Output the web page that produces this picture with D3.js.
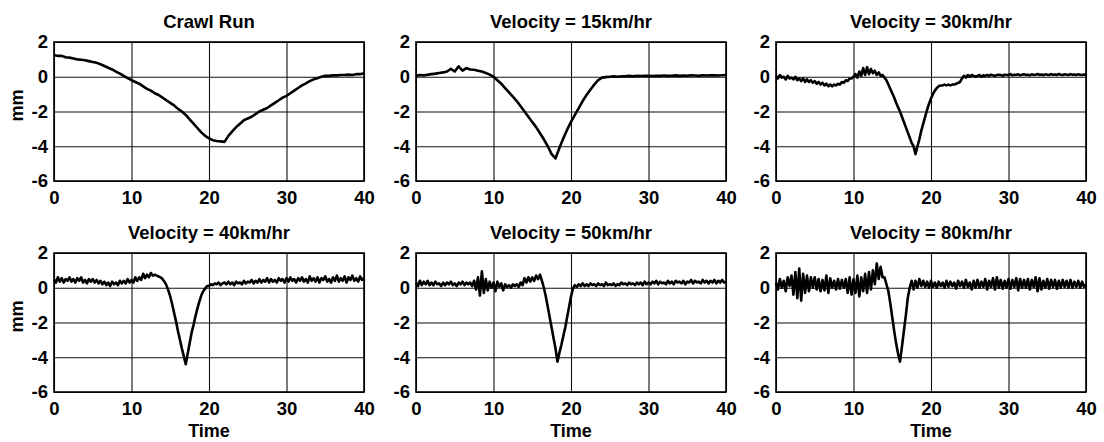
<!DOCTYPE html>
<html>
<head>
<meta charset="utf-8">
<script src="https://cdn.jsdelivr.net/npm/d3@7"></script>
<style>
  body { margin: 0; background: #fff; }
  svg { display: block; }
  text { font-family: "Liberation Sans", Arial, sans-serif; font-weight: bold; fill: #000; }
</style>
</head>
<body>
<div id="chart"></div>
<script>
// panel titles, in reading order
const titles = ['Crawl Run', 'Velocity = 15km/hr', 'Velocity = 30km/hr',
  'Velocity = 40km/hr', 'Velocity = 50km/hr', 'Velocity = 80km/hr'];

const xTicks = [0, 10, 20, 30, 40];
const yTicks = [2, 0, -2, -4, -6];

// displacement traces (mm), evenly spaced over 0..40
// crawl run, every 0.5
const crawlRun = [
  1.25, 1.2, 1.2, 1.12, 1.1, 1.05, 1.0, 0.98, 0.95, 0.9,
  0.85, 0.8, 0.72, 0.62, 0.52, 0.42, 0.3, 0.18, 0.05, -0.08,
  -0.2, -0.3, -0.4, -0.55, -0.7, -0.8, -0.95, -1.05, -1.2, -1.35,
  -1.5, -1.65, -1.85, -2.0, -2.2, -2.45, -2.7, -2.95, -3.2, -3.4,
  -3.55, -3.65, -3.7, -3.72, -3.75, -3.4, -3.15, -2.9, -2.7, -2.5,
  -2.4, -2.3, -2.15, -2.0, -1.9, -1.8, -1.65, -1.5, -1.35, -1.2,
  -1.1, -0.95, -0.8, -0.65, -0.5, -0.38, -0.25, -0.15, -0.08, 0.0,
  0.05, 0.05, 0.08, 0.08, 0.1, 0.1, 0.12, 0.1, 0.15, 0.15,
  0.2
];

// 15 km/hr, every 0.5
const vel15 = [
  0.05, 0.1, 0.08, 0.12, 0.15, 0.18, 0.22, 0.25, 0.3, 0.45,
  0.3, 0.6, 0.35, 0.5, 0.42, 0.4, 0.35, 0.3, 0.22, 0.12,
  0.0, -0.2, -0.4, -0.65, -0.9, -1.15, -1.4, -1.7, -2.0, -2.3,
  -2.6, -2.9, -3.25, -3.6, -4.0, -4.45, -4.7, -4.1, -3.55, -3.05,
  -2.6, -2.2, -1.8, -1.4, -1.05, -0.75, -0.45, -0.2, -0.05, -0.02,
  0.0, 0.02, 0.0, 0.03, 0.02, 0.05, 0.03, 0.05, 0.04, 0.06,
  0.05, 0.04, 0.06, 0.05, 0.07, 0.05, 0.06, 0.08, 0.05, 0.07,
  0.06, 0.08, 0.07, 0.06, 0.08, 0.07, 0.09, 0.08, 0.07, 0.09,
  0.1
];

// 30 km/hr, every 0.25
const vel30 = [
  0.05, -0.1, 0.1, -0.05, 0.0, -0.15, 0.05, -0.1,
  -0.05, -0.15, 0.0, -0.2, -0.1, -0.25, -0.1, -0.3,
  -0.15, -0.3, -0.2, -0.35, -0.25, -0.4, -0.3, -0.45,
  -0.35, -0.5, -0.4, -0.55, -0.45, -0.55, -0.45, -0.5,
  -0.4, -0.45, -0.3, -0.35, -0.2, -0.25, -0.1, -0.1,
  0.0, 0.15, -0.05, 0.3, 0.05, 0.5, 0.1, 0.55,
  0.15, 0.45, 0.2, 0.35, 0.1, 0.25, 0.05, 0.1,
  -0.05, -0.2, -0.45, -0.7, -0.95, -1.2, -1.5, -1.75,
  -2.0, -2.3, -2.6, -2.9, -3.2, -3.5, -3.8, -4.0,
  -4.45, -4.0, -3.6, -3.1, -2.7, -2.3, -1.9, -1.55,
  -1.25, -1.0, -0.8, -0.65, -0.55, -0.5, -0.5, -0.45,
  -0.5, -0.45, -0.5, -0.45, -0.45, -0.4, -0.35, -0.3,
  -0.1, 0.05, -0.05, 0.1, 0.0, 0.1, 0.05, 0.0,
  0.05, 0.1, 0.0, 0.08, 0.05, 0.1, 0.05, 0.12,
  0.08, 0.05, 0.1, 0.12, 0.1, 0.05, 0.12, 0.1,
  0.1, 0.15, 0.08, 0.12, 0.1, 0.14, 0.08, 0.12,
  0.15, 0.1, 0.12, 0.08, 0.14, 0.1, 0.12, 0.16,
  0.1, 0.13, 0.09, 0.14, 0.12, 0.1, 0.15, 0.11,
  0.13, 0.1, 0.16, 0.12, 0.1, 0.14, 0.12, 0.1,
  0.15, 0.11, 0.13, 0.1, 0.14, 0.12, 0.1, 0.13,
  0.1
];

// 40 km/hr, every 0.25
const vel40 = [
  0.5, 0.3, 0.6, 0.35, 0.55, 0.3, 0.5, 0.4,
  0.6, 0.35, 0.5, 0.3, 0.55, 0.4, 0.6, 0.3,
  0.45, 0.25, 0.5, 0.35, 0.5, 0.3, 0.45, 0.25,
  0.4, 0.2, 0.35, 0.15, 0.3, 0.1, 0.35, 0.2,
  0.3, 0.15, 0.4, 0.25, 0.4, 0.25, 0.5, 0.3,
  0.45, 0.3, 0.6, 0.4, 0.6, 0.45, 0.8, 0.55,
  0.75, 0.6, 0.85, 0.7, 0.75, 0.7, 0.65, 0.6,
  0.5, 0.35, 0.15, -0.15, -0.5, -0.95, -1.45, -1.95,
  -2.5, -3.0, -3.5, -3.95, -4.4, -3.8, -3.2, -2.6,
  -2.15, -1.65, -1.2, -0.8, -0.45, -0.2, -0.05, 0.1,
  0.1, 0.2, 0.15, 0.25, 0.2, 0.3, 0.15, 0.25,
  0.3, 0.2, 0.35, 0.2, 0.3, 0.15, 0.35, 0.25,
  0.3, 0.2, 0.4, 0.25, 0.35, 0.3, 0.45, 0.25,
  0.4, 0.3, 0.5, 0.3, 0.45, 0.35, 0.55, 0.3,
  0.5, 0.35, 0.45, 0.3, 0.55, 0.4, 0.5, 0.3,
  0.55, 0.35, 0.6, 0.4, 0.5, 0.3, 0.55, 0.4,
  0.6, 0.35, 0.5, 0.3, 0.65, 0.4, 0.55, 0.35,
  0.6, 0.3, 0.55, 0.45, 0.65, 0.35, 0.5, 0.3,
  0.6, 0.4, 0.7, 0.35, 0.55, 0.4, 0.65, 0.3,
  0.6, 0.45, 0.7, 0.4, 0.55, 0.35, 0.65, 0.45,
  0.55
];

// 50 km/hr, every 0.25
const vel50 = [
  0.3, 0.1, 0.4, 0.15, 0.35, 0.2, 0.4, 0.15,
  0.3, 0.15, 0.35, 0.2, 0.25, 0.1, 0.3, 0.15,
  0.3, 0.2, 0.35, 0.15, 0.25, 0.1, 0.3, 0.2,
  0.35, 0.15, 0.3, 0.2, 0.3, 0.1, 0.4, -0.1,
  0.6, -0.45, 0.95, -0.3, 0.5, -0.15, 0.35, 0.0,
  0.3, -0.2, 0.35, 0.05, 0.25, -0.15, 0.2, 0.05,
  0.15, 0.0, 0.2, 0.1, 0.2, 0.05, 0.3, 0.15,
  0.55, 0.3, 0.6, 0.35, 0.6, 0.4, 0.7, 0.5,
  0.75, 0.4, 0.0, -0.5, -1.1, -1.7, -2.3, -2.9,
  -3.5, -4.25, -3.75, -3.3, -2.8, -2.3, -1.7, -1.1,
  -0.5, -0.05, 0.15, 0.05, 0.2, 0.1, 0.25, 0.1,
  0.2, 0.1, 0.25, 0.15, 0.2, 0.1, 0.25, 0.15,
  0.2, 0.1, 0.3, 0.15, 0.2, 0.15, 0.25, 0.1,
  0.2, 0.15, 0.3, 0.2, 0.25, 0.15, 0.3, 0.2,
  0.25, 0.15, 0.3, 0.2, 0.3, 0.15, 0.35, 0.2,
  0.3, 0.2, 0.35, 0.25, 0.4, 0.2, 0.35, 0.25,
  0.3, 0.2, 0.4, 0.25, 0.35, 0.2, 0.4, 0.3,
  0.35, 0.25, 0.4, 0.2, 0.35, 0.3, 0.45, 0.25,
  0.4, 0.3, 0.35, 0.25, 0.45, 0.3, 0.4, 0.25,
  0.4, 0.3, 0.45, 0.25, 0.4, 0.3, 0.45, 0.3,
  0.35
];

// 80 km/hr, every 0.25
const vel80 = [
  0.3, -0.1, 0.5, 0.0, 0.4, -0.2, 0.6, 0.1,
  0.7, -0.4, 0.9, -0.6, 1.1, -0.75, 0.8, -0.3,
  0.7, -0.2, 0.6, 0.0, 0.6, -0.1, 0.5, -0.2,
  0.45, -0.15, 0.7, -0.3, 0.55, 0.0, 0.4, -0.1,
  0.5, -0.05, 0.45, 0.0, 0.5, -0.3, 0.6, -0.4,
  0.5, -0.3, 0.7, -0.5, 0.6, -0.2, 0.8, -0.3,
  0.9, -0.1, 1.0, 0.2, 1.4, 0.5, 1.2, 0.6,
  0.6, 0.2, -0.2, -0.9, -1.7, -2.5, -3.2, -3.8,
  -4.25, -3.4, -2.5, -1.6, -0.6, 0.0, 0.4, -0.1,
  0.4, 0.0, 0.5, 0.1, 0.4, 0.05, 0.35, 0.0,
  0.4, 0.05, 0.3, 0.0, 0.35, 0.1, 0.3, 0.0,
  0.4, 0.05, 0.35, 0.1, 0.3, -0.05, 0.4, 0.1,
  0.35, 0.0, 0.45, 0.05, 0.3, -0.1, 0.4, 0.0,
  0.45, 0.0, 0.35, 0.05, 0.5, -0.1, 0.4, 0.05,
  0.55, -0.1, 0.6, 0.0, 0.45, -0.05, 0.4, 0.0,
  0.5, -0.05, 0.45, 0.05, 0.55, -0.15, 0.5, 0.0,
  0.45, 0.0, 0.5, -0.1, 0.45, 0.05, 0.6, -0.2,
  0.55, -0.1, 0.4, 0.0, 0.5, -0.05, 0.45, 0.05,
  0.45, -0.05, 0.4, 0.0, 0.45, 0.05, 0.4, 0.0,
  0.45, 0.0, 0.35, 0.05, 0.4, 0.0, 0.35, 0.05,
  0.2
];

const series = [crawlRun, vel15, vel30, vel40, vel50, vel80];

const width = 1104, height = 442;
const colLeft = [54, 416, 776];
const rowTop = [42, 253];
const plotW = 310, plotH = 139;
const tickFont = '18.5px';

const svg = d3.select('#chart').append('svg')
  .attr('width', width)
  .attr('height', height);

svg.append('rect').attr('width', width).attr('height', height).attr('fill', '#fff');

const x = d3.scaleLinear().domain([0, 40]).range([0, plotW]);
const y = d3.scaleLinear().domain([-6, 2]).range([plotH, 0]);
const fmt = d => String(d);

function styleTicks(sel) {
  sel.select('.domain').remove();
  sel.selectAll('text')
    .style('font-size', tickFont)
    .style('font-family', '"Liberation Sans", Arial, sans-serif')
    .style('font-weight', 'bold')
    .attr('fill', '#000');
}

series.forEach((values, i) => {
  const row = Math.floor(i / 3), col = i % 3;
  const g = svg.append('g')
    .attr('transform', `translate(${colLeft[col]},${rowTop[row]})`);

  // grid lines
  g.append('g')
    .attr('transform', `translate(0,${plotH})`)
    .call(d3.axisBottom(x).tickValues(xTicks).tickSize(-plotH).tickFormat(''))
    .call(a => a.select('.domain').remove())
    .selectAll('line').attr('stroke', '#111').attr('stroke-width', 1.1);
  g.append('g')
    .call(d3.axisLeft(y).tickValues(yTicks).tickSize(-plotW).tickFormat(''))
    .call(a => a.select('.domain').remove())
    .selectAll('line').attr('stroke', '#111').attr('stroke-width', 1.1);

  // tick labels
  g.append('g')
    .attr('transform', `translate(0,${plotH})`)
    .call(d3.axisBottom(x).tickValues(xTicks).tickSize(0).tickPadding(10).tickFormat(fmt))
    .call(styleTicks);
  g.append('g')
    .call(d3.axisLeft(y).tickValues(yTicks).tickSize(0).tickPadding(6).tickFormat(fmt))
    .call(styleTicks);

  // frame
  g.append('rect')
    .attr('width', plotW).attr('height', plotH)
    .attr('fill', 'none').attr('stroke', '#000').attr('stroke-width', 1.6);

  // trace
  const step = 40 / (values.length - 1);
  const line = d3.line()
    .x((d, j) => x(j * step))
    .y(d => y(d));
  g.append('path')
    .datum(values)
    .attr('d', line)
    .attr('fill', 'none')
    .attr('stroke', '#000')
    .attr('stroke-width', 2.6)
    .attr('stroke-linejoin', 'round');

  g.append('text')
    .attr('x', plotW / 2).attr('y', -14)
    .attr('text-anchor', 'middle')
    .style('font-size', '18.5px')
    .text(titles[i]);

  if (col === 0) {
    g.append('text')
      .attr('transform', `translate(-31,${plotH / 2 - 6}) rotate(-90)`)
      .attr('text-anchor', 'middle')
      .style('font-size', '18px')
      .text('mm');
  }
  if (row === 1) {
    g.append('text')
      .attr('x', plotW / 2).attr('y', plotH + 45)
      .attr('text-anchor', 'middle')
      .style('font-size', '18px')
      .text('Time');
  }
});
</script>
</body>
</html>
